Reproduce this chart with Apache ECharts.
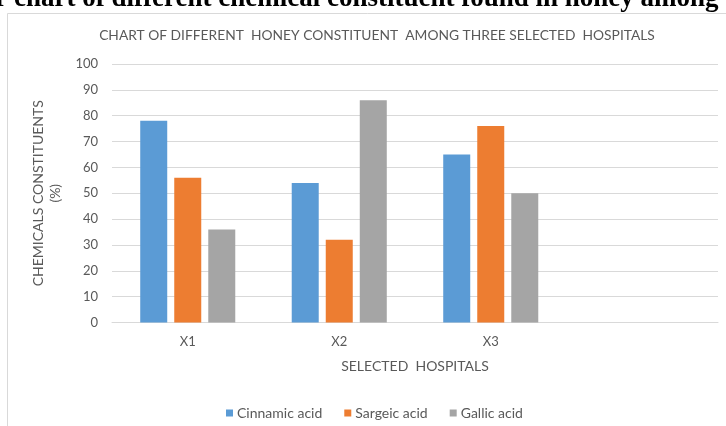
<!DOCTYPE html>
<html>
<head>
<meta charset="utf-8">
<script src="https://cdn.jsdelivr.net/npm/echarts@6/dist/echarts.min.js"></script>
<style>
  html, body { margin: 0; padding: 0; background: #fff; }
  #chart { width: 726px; height: 426px; }
</style>
</head>
<body>
<div id="chart"></div>
<script>
// Hospitals on the x axis (a trailing empty slot keeps the Excel-style spacing)
const hospitals = ['X1', 'X2', 'X3', ''];
// Percentage of each constituent per hospital
const cinnamicAcid = [78, 54, 65, null];
const sargeicAcid = [56, 32, 76, null];
const gallicAcid = [36, 86, 50, null];
const seriesNames = ['Cinnamic acid', 'Sargeic acid', 'Gallic acid'];
const yTicks = { min: 0, max: 100, interval: 10 };

const headingText = 'Fig. 1: Bar chart of different chemical constituent found in honey among three selected hospitals';
const headingFont = 'bold 27px "Liberation Serif"';

// place the heading so that the word "chart" starts near the left edge
const ctx = document.createElement('canvas').getContext('2d');
ctx.font = headingFont;
const prefixWidth = ctx.measureText('Fig. 1: Bar ').width;

const sans = 'Lato';
const grey = '#595959';

const chart = echarts.init(document.getElementById('chart'), null, { renderer: 'canvas' });
chart.setOption({
  animation: false,
  color: ['#5b9bd5', '#ed7d31', '#a5a5a5'],
  textStyle: { fontFamily: sans },
  graphic: [
    {
      type: 'rect',
      shape: { x: 7.5, y: 13.5, width: 740, height: 440 },
      style: { fill: '#fff', stroke: '#d9d9d9', lineWidth: 1 },
      z: -10
    },
    {
      type: 'text',
      x: 14 - prefixWidth,
      y: 13,
      style: {
        text: headingText,
        font: headingFont,
        fill: '#000',
        verticalAlign: 'bottom'
      }
    }
  ],
  title: {
    text: 'CHART OF DIFFERENT  HONEY CONSTITUENT  AMONG THREE SELECTED  HOSPITALS',
    left: 372,
    top: 24,
    textAlign: 'center',
    textStyle: { fontFamily: sans, fontSize: 13.8, fontWeight: 'normal', color: grey }
  },
  legend: {
    data: seriesNames,
    left: 221,
    top: 401,
    itemWidth: 7,
    itemHeight: 7,
    itemGap: 22,
    icon: 'rect',
    textStyle: { fontFamily: sans, fontSize: 14, color: grey, padding: [0, 0, 0, -1] }
  },
  grid: { left: 112, right: 8, top: 64, bottom: 103.5, containLabel: false },
  xAxis: {
    type: 'category',
    data: hospitals,
    name: 'SELECTED  HOSPITALS',
    nameLocation: 'middle',
    nameGap: 37,
    nameTextStyle: { fontFamily: sans, fontSize: 14, color: grey },
    axisLine: { lineStyle: { color: '#d9d9d9' } },
    axisTick: { show: false },
    axisLabel: { fontFamily: sans, fontSize: 13, color: grey, margin: 13 }
  },
  yAxis: {
    type: 'value',
    min: yTicks.min,
    max: yTicks.max,
    interval: yTicks.interval,
    name: 'CHEMICALS CONSTITUENTS\n(%)',
    nameLocation: 'middle',
    nameRotate: 90,
    nameGap: 44,
    nameTextStyle: { fontFamily: sans, fontSize: 14, color: grey, lineHeight: 17, align: 'center' },
    axisLine: { show: false },
    axisTick: { show: false },
    axisLabel: { fontFamily: sans, fontSize: 13, color: grey, margin: 14 },
    splitLine: { lineStyle: { color: '#d9d9d9' } }
  },
  series: [
    { name: seriesNames[0], type: 'bar', data: cinnamicAcid, barWidth: 27, barGap: '26%' },
    { name: seriesNames[1], type: 'bar', data: sargeicAcid, barWidth: 27, barGap: '26%' },
    { name: seriesNames[2], type: 'bar', data: gallicAcid, barWidth: 27, barGap: '26%' }
  ]
});
</script>
</body>
</html>
